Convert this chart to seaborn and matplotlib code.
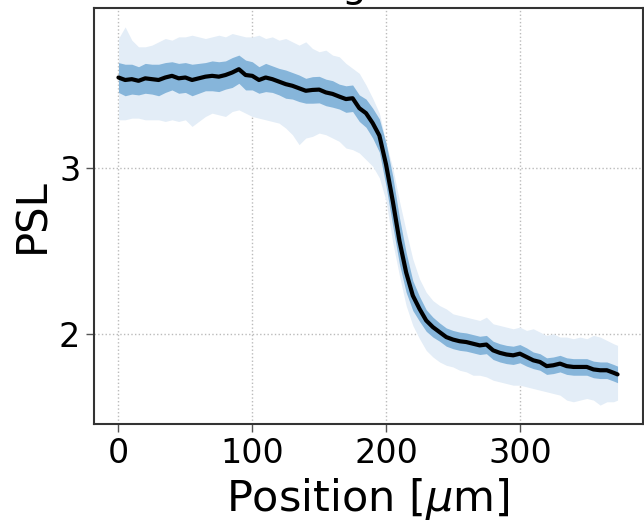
import numpy as np
import pandas as pd
import matplotlib
matplotlib.use("Agg")
import matplotlib.pyplot as plt
import seaborn as sns

position = [0, 5, 10, 15, 20, 25, 30, 35, 40, 45, 50, 55, 60, 65, 70, 75, 80, 85, 90, 95,
            100, 105, 110, 115, 120, 125, 130, 135, 140, 145, 150, 155, 160, 165, 170, 175,
            180, 185, 190, 195, 200, 205, 210, 215, 220, 225, 230, 235, 240, 245, 250, 255,
            260, 265, 270, 275, 280, 285, 290, 295, 300, 305, 310, 315, 320, 325, 330, 335,
            340, 345, 350, 355, 360, 365, 370, 373]

psl_mean = [3.545, 3.53, 3.535, 3.525, 3.54, 3.535, 3.53, 3.545, 3.555, 3.54, 3.545, 3.53,
            3.54, 3.55, 3.555, 3.55, 3.56, 3.575, 3.595, 3.56, 3.555, 3.53, 3.545, 3.535,
            3.52, 3.505, 3.495, 3.48, 3.465, 3.47, 3.472, 3.455, 3.446, 3.43, 3.415, 3.42,
            3.36, 3.33, 3.27, 3.195, 3.02, 2.80, 2.56, 2.37, 2.23, 2.15, 2.08, 2.04, 2.01,
            1.98, 1.965, 1.955, 1.95, 1.94, 1.93, 1.935, 1.90, 1.885, 1.875, 1.87, 1.88,
            1.86, 1.84, 1.83, 1.805, 1.81, 1.82, 1.805, 1.80, 1.80, 1.80, 1.785, 1.78, 1.78,
            1.765, 1.755]

psl_sd = [0.09, 0.095, 0.09, 0.085, 0.09, 0.09, 0.095, 0.09, 0.085, 0.09, 0.09, 0.095,
          0.09, 0.085, 0.09, 0.09, 0.085, 0.09, 0.085, 0.09, 0.085, 0.08, 0.085, 0.08,
          0.08, 0.085, 0.08, 0.08, 0.075, 0.08, 0.08, 0.08, 0.08, 0.075, 0.08, 0.08,
          0.08, 0.085, 0.09, 0.10, 0.13, 0.15, 0.14, 0.12, 0.09, 0.075, 0.065, 0.06, 0.055,
          0.055, 0.055, 0.055, 0.055, 0.055, 0.055, 0.055, 0.055, 0.055, 0.055, 0.055, 0.055,
          0.055, 0.05, 0.05, 0.05, 0.05, 0.05, 0.05, 0.05, 0.05, 0.05, 0.05, 0.05, 0.05,
          0.05, 0.05]

psl_outer_hi = [3.78, 3.85, 3.77, 3.73, 3.73, 3.74, 3.76, 3.78, 3.77, 3.79, 3.79, 3.80,
                3.79, 3.78, 3.79, 3.80, 3.79, 3.81, 3.80, 3.79, 3.79, 3.80, 3.78, 3.79,
                3.77, 3.78, 3.76, 3.74, 3.76, 3.72, 3.70, 3.71, 3.68, 3.67, 3.63, 3.60,
                3.57, 3.50, 3.42, 3.33, 3.15, 3.00, 2.80, 2.62, 2.45, 2.33, 2.25, 2.20, 2.17,
                2.15, 2.12, 2.11, 2.10, 2.09, 2.08, 2.10, 2.06, 2.05, 2.04, 2.03, 2.04,
                2.02, 2.03, 2.01, 1.99, 2.00, 1.98, 1.98, 1.97, 1.98, 1.97, 1.99, 1.98, 1.96,
                1.94, 1.93]

psl_outer_lo = [3.29, 3.29, 3.30, 3.30, 3.29, 3.29, 3.29, 3.28, 3.29, 3.28, 3.29, 3.25,
                3.28, 3.31, 3.33, 3.32, 3.31, 3.34, 3.35, 3.33, 3.31, 3.30, 3.29, 3.28,
                3.27, 3.24, 3.20, 3.14, 3.18, 3.19, 3.21, 3.20, 3.18, 3.16, 3.12, 3.11,
                3.09, 3.05, 3.01, 2.94, 2.80, 2.55, 2.35, 2.17, 2.05, 1.97, 1.90, 1.86, 1.83,
                1.81, 1.80, 1.78, 1.77, 1.75, 1.75, 1.74, 1.72, 1.71, 1.70, 1.69, 1.69,
                1.68, 1.67, 1.66, 1.65, 1.64, 1.63, 1.60, 1.59, 1.60, 1.61, 1.60, 1.57, 1.59,
                1.59, 1.60]

x_ticks = [0, 100, 200, 300]
y_ticks = [2, 3]

df = pd.DataFrame({"pos": position, "mean": psl_mean, "sd": psl_sd,
                   "hi": psl_outer_hi, "lo": psl_outer_lo})

sns.set_style("white")
plt.rcParams["font.family"] = ["DejaVu Sans"]
plt.rcParams["text.color"] = "black"
plt.rcParams["axes.labelcolor"] = "black"
plt.rcParams["xtick.color"] = "black"
plt.rcParams["ytick.color"] = "black"

fig = plt.figure(figsize=(6.44, 5.21), dpi=100)
ax = fig.add_axes([93.5 / 644, 97 / 521, 549 / 644, 416 / 521])

ax.fill_between(df["pos"], df["lo"], df["hi"], color="#E3EDF7", linewidth=0, zorder=1)
ax.fill_between(df["pos"], df["mean"] - df["sd"], df["mean"] + df["sd"],
                color="#86B5DA", linewidth=0, zorder=2)
sns.lineplot(data=df, x="pos", y="mean", color="black", linewidth=3.0, ax=ax, zorder=3)

ax.set_xticks(x_ticks)
ax.set_yticks(y_ticks)
ax.grid(True, linestyle=":", color="#bbbbbb", linewidth=1)
ax.set_axisbelow(True)
for s in ax.spines.values():
    s.set_color("#333333")
    s.set_linewidth(1.5)
ax.tick_params(axis="both", which="major", labelsize=24, length=6, width=1,
               color="#555555", labelcolor="black", direction="out",
               bottom=True, left=True)
ax.set_xlabel("Position [$\\mu$m]", fontsize=31, color="black")
ax.set_ylabel("PSL", fontsize=30, color="black")

fig.text(354 / 644, 1 + 3 / 521, "g", fontsize=28, ha="center", va="baseline",
         color="black")

fig.savefig("out.png", dpi=100)
